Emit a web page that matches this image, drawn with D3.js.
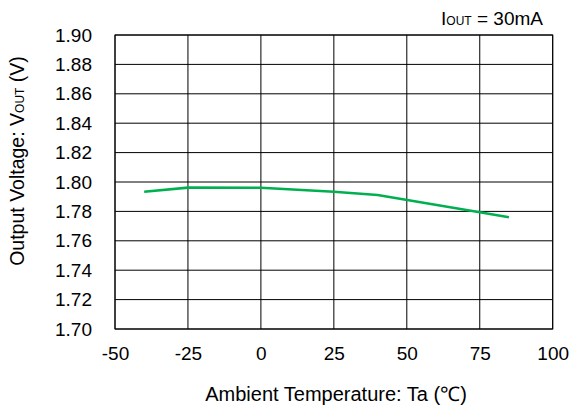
<!DOCTYPE html>
<html>
<head>
<meta charset="utf-8">
<script src="https://cdn.jsdelivr.net/npm/d3@7"></script>
<style>
  body { margin: 0; background: #fff; }
  text { font-family: "Liberation Sans", Arial, sans-serif; fill: #000; }
</style>
</head>
<body>
<svg id="chart" width="571" height="412"></svg>
<script>
const temps = [-40, -25, 0, 25, 40, 75, 85];
const vout = [1.7934, 1.7962, 1.7961, 1.7934, 1.7912, 1.7794, 1.776];
const xTicks = [-50, -25, 0, 25, 50, 75, 100];
const yTicks = [1.70, 1.72, 1.74, 1.76, 1.78, 1.80, 1.82, 1.84, 1.86, 1.88, 1.90];

(function () {
const svg = d3.select("#chart");
const pL = 115, pR = 552.7, pT = 35, pB = 329;
const x = d3.scaleLinear().domain([-50, 100]).range([pL, pR]);
const y = d3.scaleLinear().domain([1.70, 1.90]).range([pB, pT]);
const fs = 19;

// gridlines
svg.append("g").selectAll("line").data(xTicks).join("line")
  .attr("x1", d => x(d)).attr("x2", d => x(d))
  .attr("y1", pT).attr("y2", pB)
  .attr("stroke", "#000").attr("stroke-width", 1);
svg.append("g").selectAll("line").data(yTicks).join("line")
  .attr("x1", pL).attr("x2", pR)
  .attr("y1", d => y(d)).attr("y2", d => y(d))
  .attr("stroke", "#000").attr("stroke-width", 1);

// axes (labels only)
const xAxis = svg.append("g").attr("transform", `translate(0,${pB})`)
  .call(d3.axisBottom(x).tickValues(xTicks).tickSize(0).tickPadding(0).tickFormat(d => String(d)));
xAxis.select(".domain").remove();
xAxis.selectAll("text").attr("dy", null).attr("y", 31).style("font-size", fs + "px")
  .style("font-family", "'Liberation Sans', Arial, sans-serif");

const yAxis = svg.append("g").attr("transform", `translate(${pL},0)`)
  .call(d3.axisLeft(y).tickValues(yTicks).tickSize(0).tickPadding(23).tickFormat(d => d.toFixed(2)));
yAxis.select(".domain").remove();
yAxis.selectAll("text").style("font-size", fs + "px")
  .style("font-family", "'Liberation Sans', Arial, sans-serif");

// border
svg.append("rect").attr("x", pL).attr("y", pT)
  .attr("width", pR - pL).attr("height", pB - pT)
  .attr("fill", "none").attr("stroke", "#000").attr("stroke-width", 1);

// data line
svg.append("path").datum(temps.map((t, i) => [t, vout[i]]))
  .attr("fill", "none").attr("stroke", "#00B050").attr("stroke-width", 2.6)
  .attr("d", d3.line().x(d => x(d[0])).y(d => y(d[1])));

// x title
svg.append("text").attr("x", 336).attr("y", 401).attr("text-anchor", "middle")
  .style("font-size", "20px").text("Ambient Temperature: Ta (℃)");

// y title
const yt = svg.append("text").attr("transform", "translate(24,161) rotate(-90)")
  .attr("text-anchor", "middle").style("font-size", "19.5px");
yt.append("tspan").text("Output Voltage: V");
yt.append("tspan").style("font-size", "12px").text("OUT");
yt.append("tspan").text(" (V)");

// annotation
const an = svg.append("text").attr("x", 543).attr("y", 25).attr("text-anchor", "end")
  .style("font-size", fs + "px");
an.append("tspan").text("I");
an.append("tspan").style("font-size", "12px").text("OUT");
an.append("tspan").text(" = 30mA");
})();
</script>
</body>
</html>
